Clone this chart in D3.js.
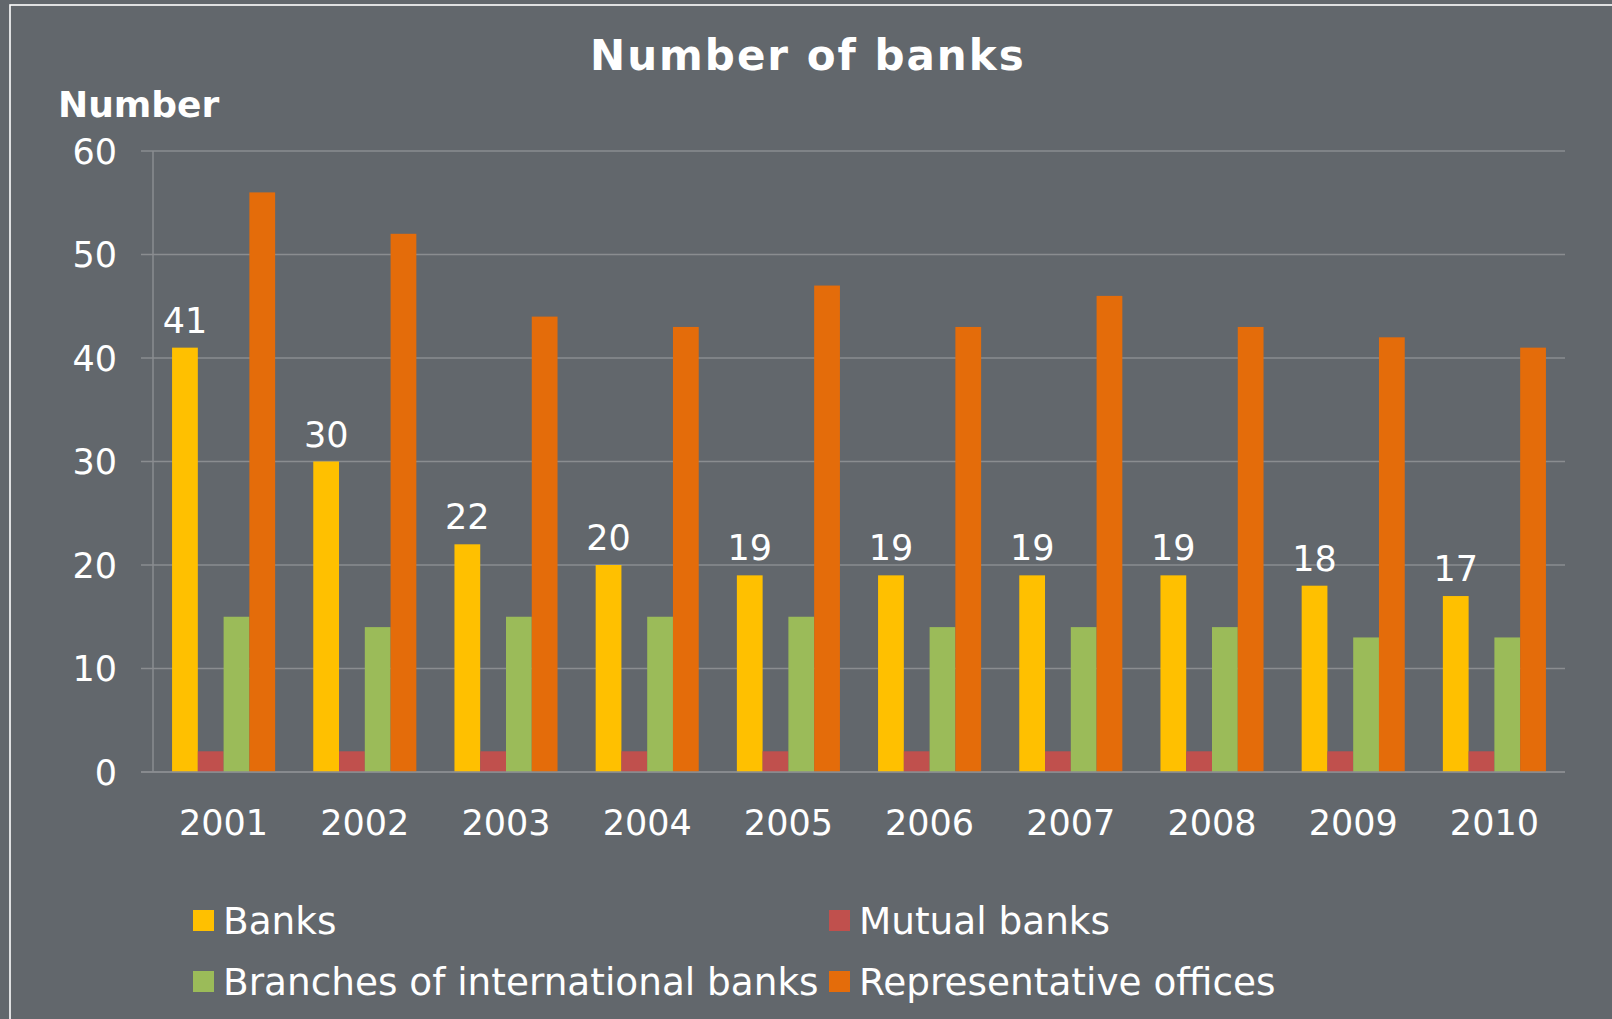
<!DOCTYPE html>
<html>
<head>
<meta charset="utf-8">
<script src="https://cdn.jsdelivr.net/npm/d3@7"></script>
<style>
  html, body { margin: 0; padding: 0; background: #62676c; }
  svg { display: block; }
</style>
</head>
<body>
<div id="chart"></div>
<script>
var years = ["2001", "2002", "2003", "2004", "2005", "2006", "2007", "2008", "2009", "2010"]
var seriesNames = ["Banks", "Mutual banks", "Branches of international banks", "Representative offices"]
var seriesColors = ["#ffc000", "#c0504d", "#9bbb59", "#e46c0a"]
var banks = [41, 30, 22, 20, 19, 19, 19, 19, 18, 17]
var mutualBanks = [2, 2, 2, 2, 2, 2, 2, 2, 2, 2]
var branches = [15, 14, 15, 15, 15, 14, 14, 14, 13, 13]
var repOffices = [56, 52, 44, 43, 47, 43, 46, 43, 42, 41]
var yTicks = [0, 10, 20, 30, 40, 50, 60]

var width = 1612, height = 1019
var seriesValues = [banks, mutualBanks, branches, repOffices]
var rows = years.map((yr, i) => ({ year: yr, values: seriesValues.map(s => s[i]) }))

let svg = d3.select("#chart").append("svg")
    .attr("width", width)
    .attr("height", height)

svg.append("rect")
    .attr("width", width).attr("height", height)
    .attr("fill", "#62676c")

// white frame
svg.append("rect")
    .attr("x", 10).attr("y", 5)
    .attr("width", 1610).attr("height", 1030)
    .attr("fill", "none")
    .attr("stroke", "#ffffff")
    .attr("stroke-width", 1.6)

let x0 = d3.scaleBand()
    .domain(years)
    .range([153, 1565])
    .paddingInner(0.27)
    .paddingOuter(0.135)

let x1 = d3.scaleBand()
    .domain(d3.range(seriesNames.length))
    .range([0, x0.bandwidth()])

let y = d3.scaleLinear()
    .domain([0, 60])
    .range([772, 151])

const font = "'DejaVu Sans', Verdana, sans-serif"
const gridColor = "#8a8d90"

// gridlines with outer ticks
svg.append("g")
    .selectAll("line")
    .data(yTicks)
    .enter()
    .append("line")
    .attr("x1", 141).attr("x2", 1565)
    .attr("y1", d => y(d)).attr("y2", d => y(d))
    .attr("stroke", gridColor)
    .attr("stroke-width", 1.5)

svg.append("line")
    .attr("x1", 153).attr("x2", 153)
    .attr("y1", y(60)).attr("y2", y(0))
    .attr("stroke", gridColor)
    .attr("stroke-width", 1.5)

// y tick labels
svg.append("g")
    .selectAll("text")
    .data(yTicks)
    .enter()
    .append("text")
    .attr("x", 117)
    .attr("y", d => y(d) + 12.5)
    .attr("text-anchor", "end")
    .attr("fill", "#ffffff")
    .style("font-family", font)
    .style("font-size", "35px")
    .text(d => d)

// bars
let groups = svg.append("g")
    .selectAll("g")
    .data(rows)
    .enter()
    .append("g")
    .attr("transform", d => "translate(" + x0(d.year) + ",0)")

groups.selectAll("rect")
    .data(d => d.values)
    .enter()
    .append("rect")
    .attr("x", (d, i) => x1(i))
    .attr("width", x1.bandwidth())
    .attr("y", d => y(d))
    .attr("height", d => y(0) - y(d))
    .attr("fill", (d, i) => seriesColors[i])

// baseline on top of bars
svg.append("line")
    .attr("x1", 141).attr("x2", 1565)
    .attr("y1", y(0)).attr("y2", y(0))
    .attr("stroke", gridColor)
    .attr("stroke-width", 1.5)

// value labels on Banks bars
groups.append("text")
    .attr("x", x1(0) + x1.bandwidth() / 2)
    .attr("y", d => y(d.values[0]) - 15)
    .attr("text-anchor", "middle")
    .attr("fill", "#ffffff")
    .style("font-family", font)
    .style("font-size", "35px")
    .text(d => d.values[0])

// year labels
svg.append("g")
    .selectAll("text")
    .data(years)
    .enter()
    .append("text")
    .attr("x", d => x0(d) + x0.bandwidth() / 2)
    .attr("y", 835)
    .attr("text-anchor", "middle")
    .attr("fill", "#ffffff")
    .style("font-family", font)
    .style("font-size", "35px")
    .text(d => d)

// titles
svg.append("text")
    .attr("x", 590).attr("y", 70)
    .attr("fill", "#ffffff")
    .style("font-family", font)
    .style("font-weight", "bold")
    .style("font-size", "42px")
    .style("letter-spacing", "2px")
    .text("Number of banks")

svg.append("text")
    .attr("x", 58).attr("y", 117)
    .attr("fill", "#ffffff")
    .style("font-family", font)
    .style("font-weight", "bold")
    .style("font-size", "36px")
    .text("Number")

// legend, two columns of two rows
let legendCols = [
    { x: 193, items: [0, 2] },
    { x: 829, items: [1, 3] }
]
let rowY = [910, 971]

legendCols.forEach(col => {
    let g = svg.append("g")
        .attr("transform", "translate(" + col.x + ",0)")
    col.items.forEach((si, r) => {
        g.append("rect")
            .attr("x", 0).attr("y", rowY[r])
            .attr("width", 21).attr("height", 21)
            .attr("fill", seriesColors[si])
        g.append("text")
            .attr("x", 30).attr("y", rowY[r] + 23.5)
            .attr("fill", "#ffffff")
            .style("font-family", font)
            .style("font-size", "37.4px")
            .text(seriesNames[si])
    })
})
</script>
</body>
</html>
